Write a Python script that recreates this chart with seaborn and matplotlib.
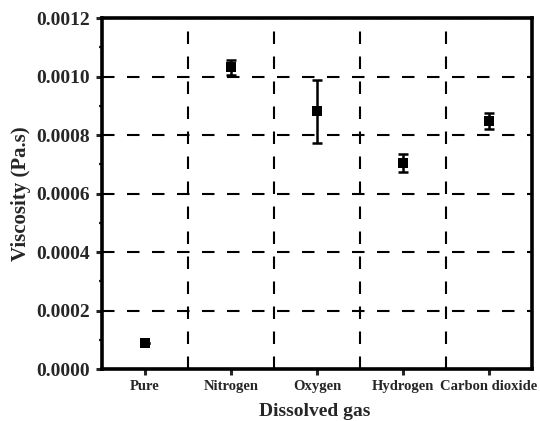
import matplotlib
matplotlib.use("Agg")
import matplotlib.pyplot as plt
from matplotlib.ticker import MultipleLocator, FixedLocator, FormatStrFormatter
import seaborn as sns
import pandas as pd

gases = ["Pure", "Nitrogen", "Oxygen", "Hydrogen", "Carbon dioxide"]
viscosity = [0.00009, 0.001032, 0.000882, 0.000704, 0.000848]
viscosity_err = [0.0, 0.000025, 0.000108, 0.000030, 0.000027]

sns.set_style("ticks")
plt.rcParams["font.family"] = ["Liberation Serif", "DejaVu Serif"]
plt.rcParams["font.weight"] = "bold"

df = pd.DataFrame({"gas": gases, "viscosity": viscosity, "err": viscosity_err})

fig = plt.figure(figsize=(5.40, 4.21), dpi=100)
ax = fig.add_axes([0.189, 0.1235, 0.796, 0.8335])

ax.errorbar(df["gas"], df["viscosity"], yerr=df["err"], fmt="none",
            ecolor="black", elinewidth=1.8, capsize=3.8, capthick=1.8, zorder=3)
sns.scatterplot(data=df, x="gas", y="viscosity", marker="s", s=60,
                color="black", edgecolor="black", linewidth=0, ax=ax, zorder=4)

ax.set_xlim(-0.5, 4.5)
ax.set_ylim(0, 0.0012)
ax.yaxis.set_major_locator(MultipleLocator(0.0002))
ax.yaxis.set_minor_locator(MultipleLocator(0.0001))
ax.yaxis.set_major_formatter(FormatStrFormatter("%.4f"))
ax.xaxis.set_minor_locator(FixedLocator([0.5, 1.5, 2.5, 3.5]))

ax.grid(True, which="major", axis="y", color="black", linestyle=(0, (6, 6)), linewidth=1.5)
ax.grid(True, which="minor", axis="x", color="black", linestyle=(0, (6, 6)), linewidth=1.5)
ax.set_axisbelow(True)

for side in ["left", "bottom", "top", "right"]:
    ax.spines[side].set_visible(True)
    ax.spines[side].set_linewidth(2.6)
    ax.spines[side].set_color("black")

ax.tick_params(axis="y", which="major", direction="out", length=4, width=2.2, labelsize=14, pad=4.5)
ax.tick_params(axis="y", which="minor", direction="out", length=2.5, width=1.6)
ax.tick_params(axis="x", which="major", direction="out", length=4, width=2.2, labelsize=10.5, pad=4)
ax.tick_params(axis="x", which="minor", length=0)
for lab in ax.get_xticklabels() + ax.get_yticklabels():
    lab.set_fontweight("bold")

ax.set_xlabel("Dissolved gas", fontsize=14, fontweight="bold")
ax.set_ylabel("Viscosity (Pa.s)", fontsize=15, fontweight="bold")
ax.xaxis.set_label_coords(0.495, -0.098)
ax.yaxis.set_label_coords(-0.165, 0.5)

fig.savefig("out.png", dpi=100)
